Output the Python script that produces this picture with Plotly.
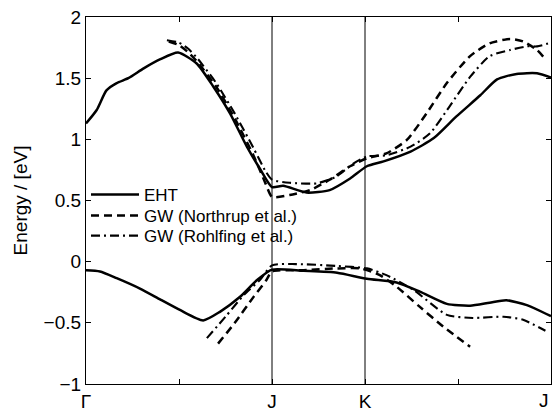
import plotly.graph_objects as go

# k-path positions (Γ=0, J=2, K=3, J=5)
tick_vals = [0, 1, 2, 3, 4, 5]
tick_text = ["Γ", "", "J", "K", "", "J"]
y_tick_vals = [-1, -0.5, 0, 0.5, 1, 1.5, 2]
y_tick_text = ["−1", "−0.5", "0", "0.5", "1", "1.5", "2"]

# EHT
eht_up_x = [0, 0.115, 0.22, 0.33, 0.455, 0.62, 0.80, 0.99, 1.19, 1.37, 1.55, 1.73, 1.87, 2.0,
            2.12, 2.37, 2.62, 2.84, 3.02, 3.20, 3.49, 3.74, 3.98, 4.24, 4.42, 4.63, 4.85, 5.0]
eht_up_y = [1.13, 1.24, 1.40, 1.46, 1.50, 1.58, 1.655, 1.71, 1.62, 1.43, 1.21, 0.94, 0.76, 0.61,
            0.62, 0.565, 0.585, 0.68, 0.78, 0.82, 0.90, 1.01, 1.185, 1.36, 1.49, 1.535, 1.54, 1.505]
eht_lo_x = [0, 0.15, 0.33, 0.58, 0.80, 1.01, 1.26, 1.44, 1.66, 1.84, 2.0,
            2.34, 2.70, 3.02, 3.34, 3.59, 3.88, 4.13, 4.34, 4.52, 4.74, 5.0]
eht_lo_y = [-0.07, -0.08, -0.135, -0.22, -0.31, -0.395, -0.48, -0.41, -0.285, -0.15, -0.065,
            -0.075, -0.09, -0.14, -0.17, -0.245, -0.345, -0.36, -0.335, -0.315, -0.355, -0.445]

# GW (Northrup et al.)
nor_up_x = [0.89, 1.0, 1.1, 1.2, 1.4, 1.6, 1.8, 1.93, 2.0, 2.19, 2.41, 2.62, 2.84, 3.02, 3.23,
            3.45, 3.66, 3.88, 4.13, 4.34, 4.56, 4.70, 4.85, 4.94]
nor_up_y = [1.80, 1.77, 1.71, 1.63, 1.43, 1.17, 0.87, 0.64, 0.53, 0.545, 0.585, 0.67, 0.78, 0.845,
            0.885, 0.995, 1.21, 1.46, 1.68, 1.785, 1.82, 1.80, 1.73, 1.655]
nor_lo_x = [1.42, 1.60, 1.80, 1.94, 2.0, 2.34, 2.70, 2.95, 3.16, 3.34, 3.59, 3.84, 4.13]
nor_lo_y = [-0.67, -0.50, -0.29, -0.15, -0.08, -0.07, -0.055, -0.055, -0.11, -0.205, -0.37, -0.53, -0.695]

# GW (Rohlfing et al.)
roh_up_x = [0.87, 1.0, 1.1, 1.2, 1.4, 1.6, 1.8, 1.93, 2.0, 2.19, 2.48, 2.69, 2.87, 3.02, 3.23,
            3.49, 3.70, 3.91, 4.13, 4.34, 4.56, 4.74, 4.85, 5.0]
roh_up_y = [1.81, 1.79, 1.74, 1.66, 1.46, 1.21, 0.93, 0.74, 0.67, 0.645, 0.64, 0.695, 0.80, 0.86,
            0.87, 0.94, 1.05, 1.27, 1.51, 1.68, 1.73, 1.76, 1.76, 1.79]
roh_lo_x = [1.30, 1.50, 1.70, 1.87, 2.0, 2.26, 2.70, 3.02, 3.23, 3.52, 3.88, 4.16, 4.49, 4.70, 4.94]
roh_lo_y = [-0.625, -0.45, -0.27, -0.15, -0.03, -0.02, -0.035, -0.055, -0.11, -0.23, -0.435,
            -0.46, -0.45, -0.475, -0.565]

DASH = "8px,5px"
DASHDOT = "9px,4px,2px,4px"
LW = 2.5

fig = go.Figure()
series = [
    ("EHT", eht_up_x, eht_up_y, eht_lo_x, eht_lo_y, "solid", LW, "legend"),
    ("GW (Northrup et al.)", nor_up_x, nor_up_y, nor_lo_x, nor_lo_y, DASH, LW, "legend2"),
    ("GW (Rohlfing et al.)", roh_up_x, roh_up_y, roh_lo_x, roh_lo_y, DASHDOT, LW - 0.4, "legend3"),
]
for name, ux, uy, lx, ly, dash, w, lg in series:
    fig.add_trace(go.Scatter(x=ux, y=uy, mode="lines", name=name, legend=lg, legendgroup=name,
                             line=dict(color="black", width=w, dash=dash, shape="spline", smoothing=0.6)))
    fig.add_trace(go.Scatter(x=lx, y=ly, mode="lines", name=name, legend=lg, legendgroup=name,
                             showlegend=False,
                             line=dict(color="black", width=w, dash=dash, shape="spline", smoothing=0.6)))

for xv in (2, 3):
    fig.add_shape(type="line", xref="x", yref="paper", x0=xv, x1=xv, y0=0, y1=1,
                  line=dict(color="black", width=1))

axis_common = dict(showgrid=False, zeroline=False, showline=True, linecolor="black", linewidth=1.2,
                   mirror="ticks", ticks="inside", ticklen=5, tickcolor="black", automargin=False,
                   tickfont=dict(size=19, color="black"))

leg_common = dict(x=0.0, xanchor="left", yanchor="middle", bgcolor="rgba(0,0,0,0)",
                  font=dict(size=17, color="black"), itemwidth=48)

# last tick label (at the right frame edge) drawn right-aligned so it stays inside the page
fig.add_annotation(x=tick_vals[-1], y=0, xref="x", yref="paper", text=tick_text[-1],
                   showarrow=False, xanchor="right", yanchor="top", xshift=-1, yshift=-5,
                   height=20, valign="middle", borderpad=0,
                   font=dict(size=19, color="black"))

fig.update_layout(
    width=552, height=411,
    margin=dict(l=86, r=1, t=17, b=27),
    paper_bgcolor="white", plot_bgcolor="white",
    font=dict(family="Liberation Sans, Arial, sans-serif", color="black"),
    xaxis=dict(range=[0, 5], tickvals=tick_vals, ticktext=tick_text[:-1] + [""], **axis_common),
    yaxis=dict(range=[-1, 2], tickvals=y_tick_vals, ticktext=y_tick_text,
               title=dict(text="Energy / [eV]", font=dict(size=19), standoff=10), **axis_common),
    legend=dict(y=0.515, **leg_common),
    legend2=dict(y=0.458, **leg_common),
    legend3=dict(y=0.403, **leg_common),
    showlegend=True,
)

fig.write_html("out.html", config={"displayModeBar": False},
               post_script="document.body.style.margin='0';")
